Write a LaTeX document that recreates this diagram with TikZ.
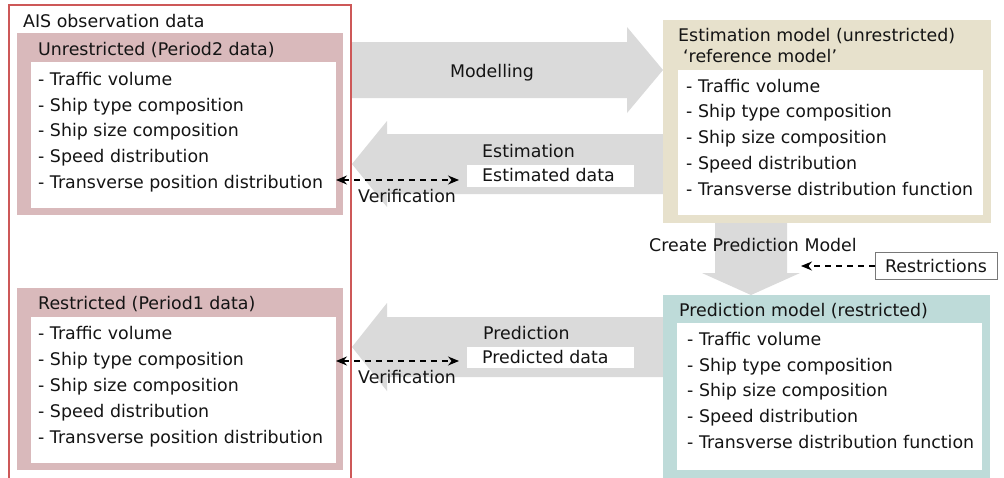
\documentclass[tikz,border=0pt]{standalone}
\usepackage{fontspec}
\setmainfont{DejaVu Sans}
\usetikzlibrary{fit,arrows.meta}
\definecolor{pinkc}{RGB}{217,185,187}
\definecolor{redc}{RGB}{205,88,88}
\definecolor{beigec}{RGB}{231,225,204}
\definecolor{tealc}{RGB}{190,219,217}
\definecolor{grayc}{RGB}{218,218,218}
\definecolor{txtc}{RGB}{20,20,20}
\definecolor{bordc}{RGB}{120,120,120}
\newcommand\dfont{\fontsize{17.4}{20}\selectfont}
\tikzset{
  rbox/.style={inner sep=0pt, outer sep=0pt, draw=none},
  lbl/.style={font=\dfont, text=txtc, inner sep=0pt, anchor=base west},
  clbl/.style={font=\dfont, text=txtc, inner sep=0pt, anchor=base},
  bigarrow/.style={fill=grayc, draw=none},
  dasharrow/.style={draw=black, line width=1.3pt, dash pattern=on 6pt off 5pt,
    {Stealth[length=11pt,width=9pt]}-{Stealth[length=11pt,width=9pt]}},
  dasharrowone/.style={draw=black, line width=1.3pt, dash pattern=on 6pt off 5pt,
    -{Stealth[length=11pt,width=9pt]}},
}
\begin{document}
\begin{tikzpicture}[x=1pt,y=-1pt]
\useasboundingbox (0,0) rectangle (1004,477);
\fill[white] (0,0) rectangle (1004,477);

% ---- big gray arrows (under boxes)
\fill[bigarrow] (351,42) -- (627,42) -- (627,27) -- (663,70) -- (627,113) -- (627,98) -- (351,98) -- cycle;
\fill[bigarrow] (668,134) -- (387,134) -- (387,121) -- (352,164) -- (387,207) -- (387,194) -- (668,194) -- cycle;
\fill[bigarrow] (668,317) -- (387,317) -- (387,303) -- (352,347) -- (387,391) -- (387,377) -- (668,377) -- cycle;
\fill[bigarrow] (715,218) -- (787,218) -- (787,273) -- (800,273) -- (751,295) -- (702,273) -- (715,273) -- cycle;

% ---- left boxes
\node[rbox, fill=pinkc, fit={(17,33) (343,215)}] (unr) {};
\node[rbox, fill=white, fit={(31,62) (336,208)}] (unrw) {};
\node[rbox, fill=pinkc, fit={(17,288) (343,470)}] (res) {};
\node[rbox, fill=white, fit={(31,317) (336,463)}] (resw) {};

% ---- right boxes
\node[rbox, fill=beigec, fit={(663,20) (991,223)}] (est) {};
\node[rbox, fill=white, fit={(678,70) (983,215)}] (estw) {};
\node[rbox, fill=tealc, fit={(663,295) (990,480)}] (pre) {};
\node[rbox, fill=white, fit={(677,323) (982,470)}] (prew) {};

% ---- outer red frame (open at bottom)
\draw[redc, line width=1.3pt] (9,480) -- (9,5) -- (351,5) -- (351,480);

% ---- texts: left
\node[lbl] (ais) at (23,27) {AIS observation data};
\node[lbl] (unrt) at (38,55) {Unrestricted (Period2 data)};
\node[lbl] (u1) at (38,85) {- Traffic volume};
\node[lbl] (u2) at (38,111) {- Ship type composition};
\node[lbl] (u3) at (38,136) {- Ship size composition};
\node[lbl] (u4) at (38,162) {- Speed distribution};
\node[lbl] (u5) at (38,188) {- Transverse position distribution};

\node[lbl] (rest) at (38,309) {Restricted (Period1 data)};
\node[lbl] (r1) at (38,339) {- Traffic volume};
\node[lbl] (r2) at (38,365) {- Ship type composition};
\node[lbl] (r3) at (38,391) {- Ship size composition};
\node[lbl] (r4) at (38,417) {- Speed distribution};
\node[lbl] (r5) at (38,443) {- Transverse position distribution};

% ---- texts: right
\node[lbl] (estt) at (678,41) {Estimation model (unrestricted)};
\node[lbl] (estt2) at (683,62) {‘reference model’};
\node[lbl] (e1) at (686,92) {- Traffic volume};
\node[lbl] (e2) at (686,117.5) {- Ship type composition};
\node[lbl] (e3) at (686,143) {- Ship size composition};
\node[lbl] (e4) at (686,169) {- Speed distribution};
\node[lbl] (e5) at (686,195) {- Transverse distribution function};

\node[lbl] (pret) at (679,316) {Prediction model (restricted)};
\node[lbl] (p1) at (687,345) {- Traffic volume};
\node[lbl] (p2) at (687,371) {- Ship type composition};
\node[lbl] (p3) at (687,396) {- Ship size composition};
\node[lbl] (p4) at (687,422) {- Speed distribution};
\node[lbl] (p5) at (687,448) {- Transverse distribution function};

% ---- middle labels
\node[clbl] (model) at (492,77) {Modelling};
\node[lbl] (estl) at (482,157) {Estimation};
\node[rbox, fill=white, fit={(467,165) (634,187)}] (estdbox) {};
\node[lbl] (estd) at (482,181) {Estimated data};
\node[lbl] (ver1) at (358,202) {Verification};

\node[lbl] (prel) at (483,339) {Prediction};
\node[rbox, fill=white, fit={(467,347) (634,368)}] (predbox) {};
\node[lbl] (pred) at (482,363) {Predicted data};
\node[lbl] (ver2) at (358,383) {Verification};

\node[lbl] (cpm) at (649,251) {Create Prediction Model};
\node[draw=bordc, line width=0.9pt, fill=white, inner sep=0pt, minimum width=122pt,
      minimum height=27pt, font=\dfont, text=txtc] (restr) at (936,266) {Restrictions};

% ---- dashed connectors
\coordinate (v1a) at (unrw.east |- 0,180);
\coordinate (v1b) at ([xshift=-8pt]estdbox.west |- 0,180);
\draw[dasharrow] (v1a) -- (v1b);
\coordinate (v2a) at (resw.east |- 0,361);
\coordinate (v2b) at ([xshift=-8pt]predbox.west |- 0,361);
\draw[dasharrow] (v2a) -- (v2b);
\coordinate (rtip) at (801,266);
\draw[dasharrowone] (restr.west) -- (rtip);
\end{tikzpicture}
\end{document}
